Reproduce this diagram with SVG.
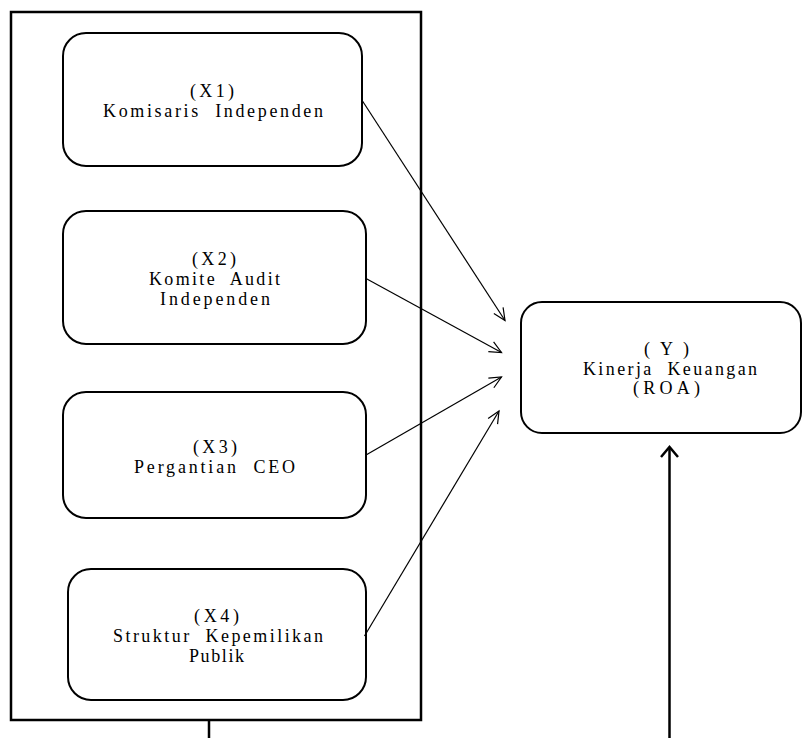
<svg xmlns="http://www.w3.org/2000/svg" width="803" height="738" viewBox="0 0 803 738">
<defs>
<style>
.box{fill:#fff;stroke:#000;stroke-width:2}
.outer{fill:none;stroke:#000;stroke-width:2.5}
.t{font-family:"Liberation Serif","Times New Roman",serif;font-size:18px;fill:#000}
.c{fill:none;stroke:#000;stroke-width:1.2}
.thick{fill:none;stroke:#000;stroke-width:2.5}
</style>
<marker id="ah" markerUnits="userSpaceOnUse" markerWidth="30" markerHeight="30" refX="0" refY="0" viewBox="-15 -15 30 30" orient="auto">
<path d="M-12,-5.5 L0,0 L-12,5.5" fill="none" stroke="#000" stroke-width="1.2"/>
</marker>
<marker id="ah2" markerUnits="userSpaceOnUse" markerWidth="30" markerHeight="30" refX="0" refY="0" viewBox="-15 -15 30 30" orient="auto">
<path d="M-10,-8.5 L0,0 L-10,8.5" fill="none" stroke="#000" stroke-width="2.5"/>
</marker>
</defs>
<rect id="frame" class="outer" x="11" y="12" width="410" height="708"/>
<g id="x1">
<rect class="box" x="63" y="33" width="299" height="133" rx="23"/>
<text class="t" xml:space="preserve" x="190" y="97" textLength="44" lengthAdjust="spacing">(X1)</text>
<text class="t" xml:space="preserve" x="103" y="117" textLength="220" lengthAdjust="spacing">Komisaris  Independen</text>
</g>
<g id="x2">
<rect class="box" x="63" y="211" width="303" height="133" rx="23"/>
<text class="t" xml:space="preserve" x="192" y="265" textLength="44" lengthAdjust="spacing">(X2)</text>
<text class="t" xml:space="preserve" x="149" y="285" textLength="131" lengthAdjust="spacing">Komite  Audit</text>
<text class="t" xml:space="preserve" x="160" y="305" textLength="110" lengthAdjust="spacing">Independen</text>
</g>
<g id="x3">
<rect class="box" x="63" y="392" width="303" height="126" rx="23"/>
<text class="t" xml:space="preserve" x="193" y="453" textLength="44" lengthAdjust="spacing">(X3)</text>
<text class="t" xml:space="preserve" x="134" y="473" textLength="161" lengthAdjust="spacing">Pergantian  CEO</text>
</g>
<g id="x4">
<rect class="box" x="68" y="569" width="298" height="131" rx="23"/>
<text class="t" xml:space="preserve" x="194" y="622" textLength="45" lengthAdjust="spacing">(X4)</text>
<text class="t" xml:space="preserve" x="113" y="642" textLength="210" lengthAdjust="spacing">Struktur  Kepemilikan</text>
<text class="t" xml:space="preserve" x="189" y="662" textLength="55" lengthAdjust="spacing">Publik</text>
</g>
<g id="y">
<rect class="box" x="521" y="302" width="280" height="131" rx="21"/>
<text class="t" xml:space="preserve" x="644" y="355" textLength="45" lengthAdjust="spacing">( Y )</text>
<text class="t" xml:space="preserve" x="583" y="374.5" textLength="174" lengthAdjust="spacing">Kinerja  Keuangan</text>
<text class="t" xml:space="preserve" x="633" y="394" textLength="67" lengthAdjust="spacing">(ROA)</text>
</g>
<g id="connectors">
<line class="c" x1="362.5" y1="101" x2="505" y2="320.5" marker-end="url(#ah)"/>
<line class="c" x1="366" y1="278.5" x2="501.5" y2="352.5" marker-end="url(#ah)"/>
<line class="c" x1="366" y1="455" x2="501.5" y2="377" marker-end="url(#ah)"/>
<line class="c" x1="364.5" y1="636" x2="499" y2="411" marker-end="url(#ah)"/>
<line class="thick" x1="669.5" y1="738" x2="669.5" y2="447" marker-end="url(#ah2)"/>
<line class="thick" x1="209" y1="720" x2="209" y2="738"/>
</g>
</svg>
